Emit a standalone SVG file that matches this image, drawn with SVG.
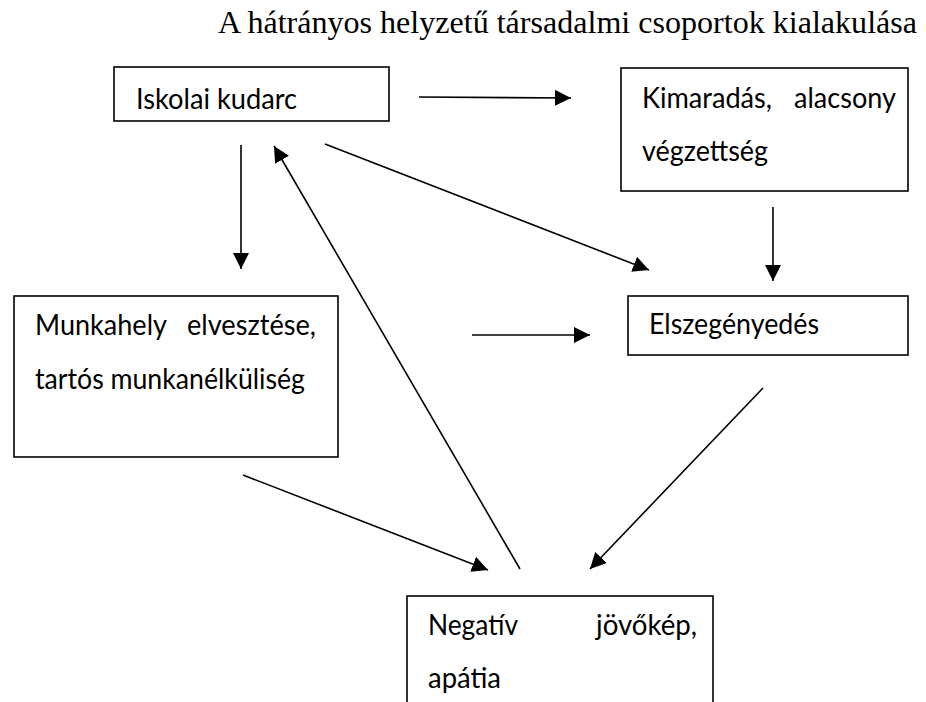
<svg xmlns="http://www.w3.org/2000/svg" width="926" height="702" viewBox="0 0 926 702">
<style>
.box{fill:#fff;stroke:#000;stroke-width:1.6}
.t{font-family:Lato,"Open Sans","Liberation Sans",sans-serif;font-size:28.5px;fill:#000}
.title{font-family:"Liberation Serif","Times New Roman",serif;font-size:32px;fill:#000}
.c{stroke:#000;stroke-width:1.6;fill:none;marker-end:url(#ah)}
</style>
<defs>
<marker id="ah" markerUnits="userSpaceOnUse" markerWidth="17" markerHeight="16" refX="16" refY="8" orient="auto" viewBox="0 0 17 16">
<path d="M0,0 L16,8 L0,16 z" fill="#000"/>
</marker>
</defs>
<rect width="926" height="702" fill="#fff"/>
<text class="title" x="218" y="33" textLength="699" lengthAdjust="spacingAndGlyphs">A hátrányos helyzetű társadalmi csoportok kialakulása</text>
<g id="n-iskolai">
<rect class="box" x="114" y="67" width="275" height="54"/>
<text class="t" x="136" y="109" textLength="161" lengthAdjust="spacingAndGlyphs">Iskolai kudarc</text>
</g>
<g id="n-kimaradas">
<rect class="box" x="621" y="68" width="287" height="123"/>
<text class="t" x="642" y="108" textLength="130" lengthAdjust="spacingAndGlyphs">Kimaradás,</text>
<text class="t" x="896" y="108" text-anchor="end" textLength="102" lengthAdjust="spacingAndGlyphs">alacsony</text>
<text class="t" x="642" y="161" textLength="126" lengthAdjust="spacingAndGlyphs">végzettség</text>
</g>
<g id="n-elszegenyedes">
<rect class="box" x="628" y="296" width="280" height="59"/>
<text class="t" x="649" y="334" textLength="170" lengthAdjust="spacingAndGlyphs">Elszegényedés</text>
</g>
<g id="n-munkahely">
<rect class="box" x="14" y="296" width="324" height="161"/>
<text class="t" x="35" y="335" textLength="132" lengthAdjust="spacingAndGlyphs">Munkahely</text>
<text class="t" x="316" y="335" text-anchor="end" textLength="129" lengthAdjust="spacingAndGlyphs">elvesztése,</text>
<text class="t" x="35" y="389" textLength="270" lengthAdjust="spacingAndGlyphs">tartós munkanélküliség</text>
</g>
<g id="n-negativ">
<rect class="box" x="407" y="596" width="306" height="130"/>
<text class="t" x="428" y="635" textLength="90" lengthAdjust="spacingAndGlyphs">Negatív</text>
<text class="t" x="697" y="635" text-anchor="end" textLength="101" lengthAdjust="spacingAndGlyphs">jövőkép,</text>
<text class="t" x="428" y="688" textLength="73" lengthAdjust="spacingAndGlyphs">apátia</text>
</g>
<g id="connectors">
<line class="c" x1="419" y1="97" x2="571" y2="98"/>
<line class="c" x1="241" y1="145" x2="241" y2="269"/>
<line class="c" x1="325" y1="144" x2="649" y2="270"/>
<line class="c" x1="520" y1="569" x2="274" y2="146"/>
<line class="c" x1="773" y1="207" x2="773" y2="281"/>
<line class="c" x1="472" y1="335" x2="590" y2="335"/>
<line class="c" x1="763" y1="388" x2="590" y2="569"/>
<line class="c" x1="243" y1="475" x2="488" y2="570"/>
</g>
</svg>
